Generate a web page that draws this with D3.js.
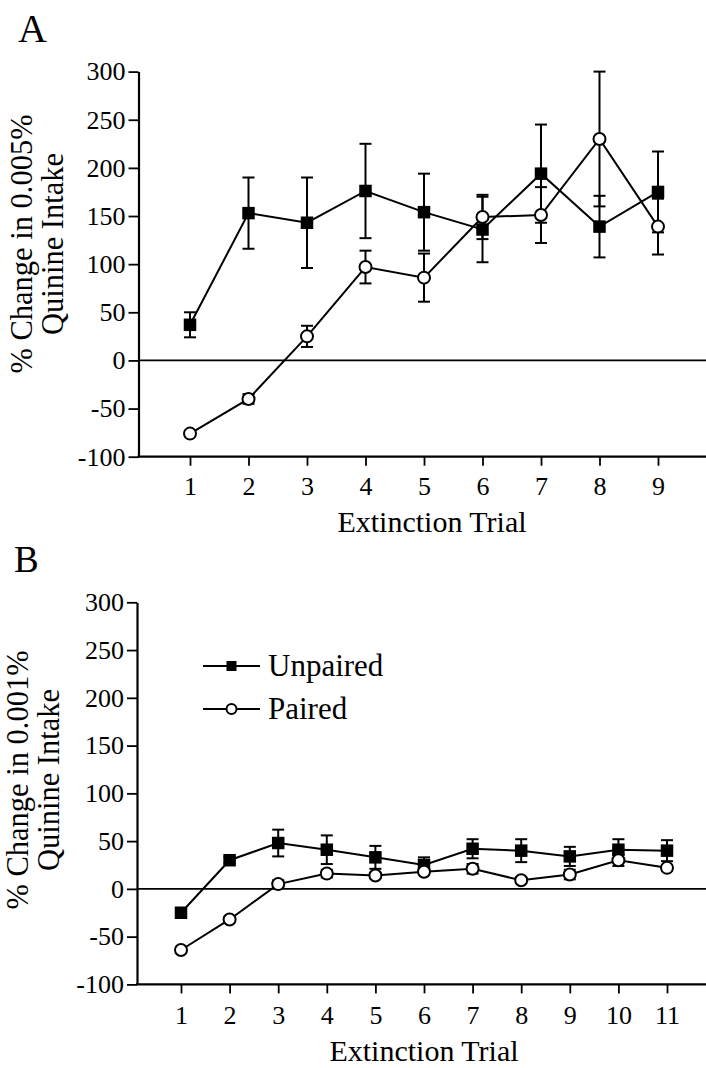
<!DOCTYPE html>
<html>
<head>
<meta charset="utf-8">
<script src="https://cdn.jsdelivr.net/npm/d3@7"></script>
<style>
  html, body { margin: 0; padding: 0; background: #fff; }
  svg { display: block; }
</style>
</head>
<body>
<svg id="chart" width="706" height="1068"></svg>
<script>
// ---------- DATA ----------
const trialsA = [1, 2, 3, 4, 5, 6, 7, 8, 9];
const unpairedA = [37, 153, 143, 176, 154, 136, 194, 139, 175];
const unpairedAErr = [13, 37, 47, 49, 40, 34, 51, 32, 42];
const pairedA = [-76, -40, 25, 97, 86, 149, 151, 230, 139];
const pairedAErr = [3, 5, 11, 17, 25, 23, 29, 70, 29];

const trialsB = [1, 2, 3, 4, 5, 6, 7, 8, 9, 10, 11];
const unpairedB = [-25, 30, 48, 41, 33, 25, 42, 40, 34, 41, 40];
const unpairedBErr = [2, 3, 14, 15, 12, 8, 10, 12, 10, 11, 11];
const pairedB = [-64, -32, 5, 16, 14, 18, 21, 9, 15, 30, 22];
const pairedBErr = [3, 3, 4, 4, 3, 3, 5, 3, 5, 6, 3];

const yTickValues = [-100, -50, 0, 50, 100, 150, 200, 250, 300];
const seriesNames = ["Unpaired", "Paired"];
const xTitle = "Extinction Trial";
const yTitleA = ["% Change in 0.005%", "Quinine Intake"];
const yTitleB = ["% Change in 0.001%", "Quinine Intake"];

// ---------- DRAWING ----------
const FONT = "'Liberation Serif', 'Times New Roman', Times, 'DejaVu Serif', serif";
const W = 706;
const svg = d3.select("#chart");

function txt(sel) { return sel.attr("font-family", FONT).attr("fill", "#000"); }

function drawPanel(cfg) {
  const g = svg.append("g");
  const x = d3.scaleLinear().domain([cfg.trials[0], cfg.trials[cfg.trials.length - 1]]).range(cfg.xRange);
  const y = d3.scaleLinear().domain([-100, 300]).range(cfg.yRange);
  const axisX = cfg.axisX;

  // panel letter
  txt(g.append("text")).attr("x", cfg.letterPos[0]).attr("y", cfg.letterPos[1])
    .attr("font-size", cfg.letterSize).text(cfg.letter);

  // y axis
  const yAxis = g.append("g").attr("transform", `translate(${axisX},0)`)
    .call(d3.axisLeft(y).tickValues(yTickValues).tickSize(10).tickSizeOuter(0).tickPadding(3)
      .tickFormat(d => d < 0 ? "-" + Math.abs(d) : d));
  yAxis.attr("font-family", FONT);
  yAxis.select(".domain").attr("stroke-width", 2.2);
  yAxis.selectAll(".tick line").attr("stroke-width", 1.8);
  txt(yAxis.selectAll(".tick text")).attr("font-size", 26);

  // x axis (ticks and labels via d3 axis, baseline extended to panel edge)
  const xAxis = g.append("g").attr("transform", `translate(0,${y(-100)})`)
    .call(d3.axisBottom(x).tickValues(cfg.trials).tickSize(9).tickPadding(cfg.xPad).tickFormat(d3.format("d")));
  xAxis.attr("font-family", FONT);
  xAxis.select(".domain").remove();
  xAxis.selectAll(".tick line").attr("stroke-width", 1.8);
  txt(xAxis.selectAll(".tick text")).attr("font-size", 26);
  g.append("line").attr("x1", axisX - 1).attr("x2", W).attr("y1", y(-100)).attr("y2", y(-100))
    .attr("stroke", "#000").attr("stroke-width", 2.2);

  // zero line
  g.append("line").attr("x1", axisX).attr("x2", W).attr("y1", y(0)).attr("y2", y(0))
    .attr("stroke", "#000").attr("stroke-width", 1.8);

  // axis titles
  txt(g.append("text")).attr("x", cfg.xTitlePos[0]).attr("y", cfg.xTitlePos[1])
    .attr("text-anchor", "middle").attr("font-size", 30).text(xTitle);
  cfg.yTitle.forEach((t, i) => {
    txt(g.append("text"))
      .attr("transform", `translate(${cfg.yTitleX[i]},${cfg.yTitleCY}) rotate(-90)`)
      .attr("text-anchor", "middle").attr("font-size", 30.5).text(t);
  });

  const line = d3.line().x(d => x(d.t)).y(d => y(d.v));
  const mk = (vals, errs) => cfg.trials.map((t, i) => ({ t, v: vals[i], e: errs[i] }));
  const U = mk(cfg.unpaired, cfg.unpairedErr);
  const P = mk(cfg.paired, cfg.pairedErr);

  // connecting lines
  [U, P].forEach(s => g.append("path").datum(s).attr("d", line)
    .attr("fill", "none").attr("stroke", "#000").attr("stroke-width", 2));

  // error bars
  const cap = 6;
  [U, P].forEach(s => {
    const eb = g.append("g").selectAll("g").data(s).enter().append("g");
    eb.append("line").attr("x1", d => x(d.t)).attr("x2", d => x(d.t))
      .attr("y1", d => y(d.v + d.e)).attr("y2", d => y(d.v - d.e))
      .attr("stroke", "#000").attr("stroke-width", 2);
    [1, -1].forEach(sg => eb.append("line")
      .attr("x1", d => x(d.t) - cap).attr("x2", d => x(d.t) + cap)
      .attr("y1", d => y(d.v + sg * d.e)).attr("y2", d => y(d.v + sg * d.e))
      .attr("stroke", "#000").attr("stroke-width", 2));
  });

  // markers
  const sz = 12.5;
  g.append("g").selectAll("rect").data(U).enter().append("rect")
    .attr("x", d => x(d.t) - sz / 2).attr("y", d => y(d.v) - sz / 2)
    .attr("width", sz).attr("height", sz).attr("fill", "#000");
  g.append("g").selectAll("circle").data(P).enter().append("circle")
    .attr("cx", d => x(d.t)).attr("cy", d => y(d.v)).attr("r", 6)
    .attr("fill", "#fff").attr("stroke", "#000").attr("stroke-width", 2);

  // legend
  if (cfg.legend) {
    const L = cfg.legend;
    seriesNames.forEach((name, i) => {
      const ly = L.y + i * L.dy;
      const lg = g.append("g");
      lg.append("line").attr("x1", L.x).attr("x2", L.x + L.len).attr("y1", ly).attr("y2", ly)
        .attr("stroke", "#000").attr("stroke-width", 2);
      if (i === 0) {
        lg.append("rect").attr("x", L.x + L.len / 2 - 5).attr("y", ly - 5).attr("width", 10).attr("height", 10).attr("fill", "#000");
      } else {
        lg.append("circle").attr("cx", L.x + L.len / 2).attr("cy", ly).attr("r", 5)
          .attr("fill", "#fff").attr("stroke", "#000").attr("stroke-width", 2);
      }
      txt(lg.append("text")).attr("x", L.x + L.len + 8).attr("y", ly + 10).attr("font-size", 31).text(name);
    });
  }
}

drawPanel({
  letter: "A", letterPos: [18, 42], letterSize: 40,
  trials: trialsA, xRange: [190, 658], yRange: [456.7, 71.6], axisX: 138.5,
  unpaired: unpairedA, unpairedErr: unpairedAErr, paired: pairedA, pairedErr: pairedAErr,
  xPad: 11, xTitlePos: [432, 532], yTitle: yTitleA, yTitleX: [32, 63], yTitleCY: 244
});

drawPanel({
  letter: "B", letterPos: [14, 572], letterSize: 37,
  trials: trialsB, xRange: [181, 667], yRange: [984.4, 602.3], axisX: 137,
  unpaired: unpairedB, unpairedErr: unpairedBErr, paired: pairedB, pairedErr: pairedBErr,
  xPad: 12, xTitlePos: [424, 1061], yTitle: yTitleB, yTitleX: [28, 59], yTitleCY: 780,
  legend: { x: 203, len: 57, y: 666, dy: 43 }
});
</script>
</body>
</html>
